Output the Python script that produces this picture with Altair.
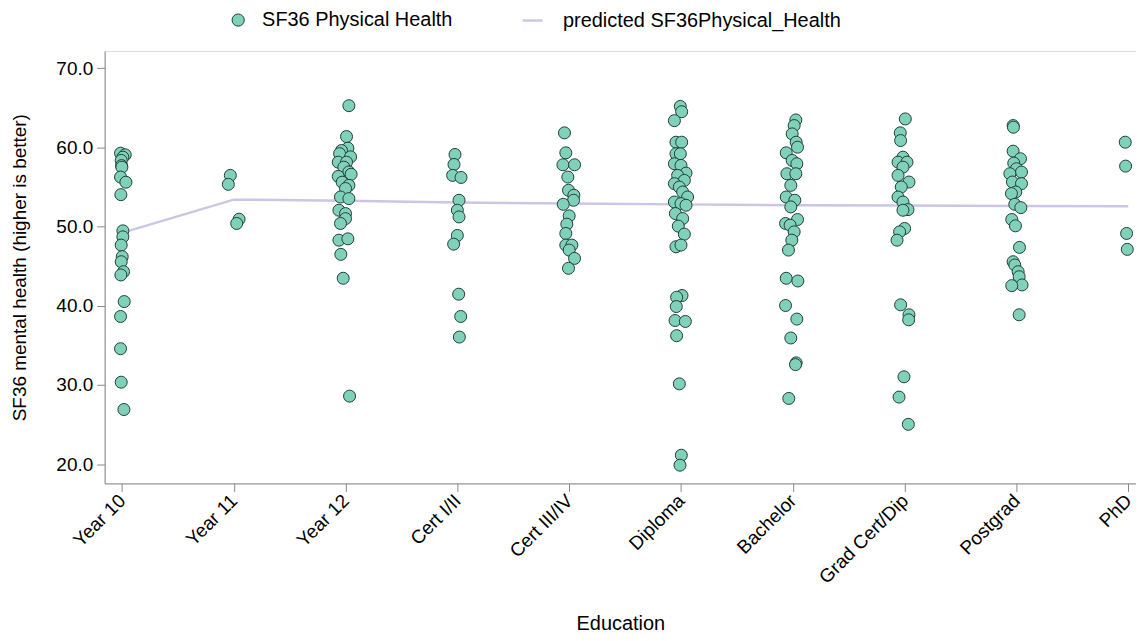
import altair as alt
import pandas as pd

categories = ["Year 10", "Year 11", "Year 12", "Cert I/II", "Cert III/IV",
              "Diploma", "Bachelor", "Grad Cert/Dip", "Postgrad", "PhD"]

# SF36 values per education level, with the horizontal jitter (category units)
y_year10 = [59.26, 59.06, 58.76, 58.35, 57.7, 57.5, 56.25, 55.6, 54.03, 49.46, 48.7,
            47.66, 46.2, 45.56, 44.3, 43.89, 40.53, 38.65, 34.58, 30.35, 26.9]
j_year10 = [-0.012, 0.030, 0.009, -0.006, -0.003, 0.0, -0.012, 0.036, -0.009, 0.009, 0.009,
            -0.006, 0.003, -0.006, 0.015, -0.009, 0.021, -0.012, -0.012, -0.006, 0.018]

y_year11 = [56.46, 55.33, 50.93, 50.39]
j_year11 = [-0.030, -0.048, 0.048, 0.027]

y_year12 = [65.26, 61.36, 59.9, 59.6, 59.2, 58.8, 58.13, 58.13, 57.5, 56.9, 56.6, 56.33,
            55.6, 55.2, 54.8, 53.73, 53.53, 52.06, 51.64, 51.0, 50.39, 48.28, 48.45,
            46.49, 43.47, 28.59]
j_year12 = [0.030, 0.009, 0.021, -0.036, -0.053, 0.045, -0.065, 0.009, -0.015, 0.030,
            0.050, -0.065, -0.030, 0.030, 0.0, -0.045, 0.030, -0.059, 0.0, 0.0, -0.045,
            -0.059, 0.021, -0.042, -0.021, 0.036]

y_cert12 = [59.1, 57.84, 56.46, 56.2, 53.32, 52.06, 51.22, 48.88, 47.78, 41.46, 38.65, 36.05]
j_cert12 = [-0.021, -0.030, -0.042, 0.033, 0.015, 0.0, 0.015, 0.0, -0.033, 0.012, 0.030, 0.018]

y_cert34 = [61.83, 59.31, 57.8, 57.8, 56.25, 54.58, 53.95, 53.32, 52.81, 51.35, 50.3,
            49.13, 47.66, 47.66, 47.03, 45.98, 44.73]
j_cert34 = [-0.042, -0.030, -0.056, 0.048, -0.012, -0.006, 0.042, 0.039, -0.053, 0.0,
            -0.021, -0.030, -0.030, 0.024, 0.0, 0.048, -0.006]

y_diploma = [65.17, 64.5, 63.37, 60.65, 60.65, 59.19, 59.19, 57.93, 57.72, 56.75, 56.46,
             55.83, 55.42, 54.99, 54.36, 53.73, 53.1, 52.9, 52.69, 51.64, 51.01, 50.05,
             49.04, 47.45, 47.66, 41.29, 41.08, 39.9, 38.14, 38.02, 36.22, 30.14, 21.13, 19.87]
j_diploma = [-0.006, 0.006, -0.059, -0.045, 0.006, -0.045, -0.006, -0.059, 0.0, 0.045,
             -0.030, 0.030, -0.059, -0.015, 0.015, 0.059, -0.059, 0.0, 0.045, -0.050,
             0.015, -0.024, 0.030, -0.045, 0.0, 0.009, -0.039, -0.042, -0.053, 0.039,
             -0.039, -0.015, 0.003, -0.009]

y_bachelor = [63.46, 62.75, 61.7, 60.65, 60.02, 59.31, 58.35, 57.93, 56.67, 56.67, 55.2,
              53.73, 53.32, 52.48, 50.89, 50.39, 50.17, 49.33, 48.28, 47.03, 43.47, 43.13,
              40.03, 38.32, 35.93, 32.79, 32.57, 28.3]
j_bachelor = [0.027, 0.012, -0.006, 0.030, 0.042, -0.059, -0.006, 0.036, -0.053, 0.027,
              -0.018, -0.059, 0.018, -0.018, 0.042, -0.065, -0.024, 0.012, -0.009, -0.039,
              -0.059, 0.045, -0.065, 0.036, -0.018, 0.030, 0.024, -0.036]

y_gradcert = [63.59, 61.83, 60.86, 58.76, 58.13, 58.13, 57.5, 56.46, 55.62, 54.99, 53.73,
              53.1, 52.14, 52.06, 49.76, 49.33, 48.28, 40.12, 38.86, 38.23, 31.03, 28.47, 25.03]
j_gradcert = [0.006, -0.039, -0.036, -0.015, -0.059, 0.021, -0.015, -0.059, 0.039, -0.030,
              -0.059, -0.015, 0.030, -0.015, 0.0, -0.045, -0.068, -0.036, 0.039, 0.036,
              -0.006, -0.050, 0.033]

y_postgrad = [62.75, 62.54, 59.52, 58.56, 58.01, 57.3, 56.88, 56.67, 55.62, 55.42, 54.36,
              54.16, 52.81, 52.39, 50.89, 50.09, 47.37, 45.56, 45.15, 44.3, 43.67, 42.63,
              42.54, 38.86]
j_postgrad = [-0.030, -0.027, -0.030, 0.036, -0.024, 0.0, 0.045, -0.059, -0.036, 0.045,
              -0.006, -0.045, -0.015, 0.039, -0.042, -0.009, 0.027, -0.030, -0.015, 0.015,
              0.024, 0.050, -0.042, 0.024]

y_phd = [60.65, 57.63, 49.13, 47.12]
j_phd = [-0.027, -0.024, -0.015, -0.009]

predicted = [49.2, 53.4, 53.25, 53.05, 52.9, 52.8, 52.7, 52.66, 52.6, 52.55]

y_lists = [y_year10, y_year11, y_year12, y_cert12, y_cert34,
           y_diploma, y_bachelor, y_gradcert, y_postgrad, y_phd]
j_lists = [j_year10, j_year11, j_year12, j_cert12, j_cert34,
           j_diploma, j_bachelor, j_gradcert, j_postgrad, j_phd]

rows = []
for i, (ys, js) in enumerate(zip(y_lists, j_lists)):
    for y, j in zip(ys, js):
        rows.append({"pos": i + j, "value": y, "series": "SF36 Physical Health"})
points_df = pd.DataFrame(rows)

line_df = pd.DataFrame({
    "pos": list(range(len(categories))),
    "value": predicted,
    "pseries": "predicted SF36Physical_Health",
})

FONT = "Liberation Sans"
label_expr = "[" + ",".join("'" + c + "'" for c in categories) + "][datum.value]"

x_scale = alt.Scale(domain=[-0.154, 9.069], nice=False, zero=False)
y_scale = alt.Scale(domain=[17.57, 72.17], nice=False, zero=False)

x_axis = alt.Axis(
    values=list(range(len(categories))), labelExpr=label_expr, labelAngle=-45,
    labelAlign="right", labelBaseline="middle", labelFontSize=19, labelPadding=6,
    title="Education", titleFontSize=20, titleFontWeight="normal",
    titleY=131, titleBaseline="top", tickSize=8, grid=False,
)
y_axis = alt.Axis(
    values=[20, 30, 40, 50, 60, 70], format=".1f", labelFontSize=19, labelPadding=4,
    title="SF36 mental health (higher is better)", titleFontSize=19,
    titleFontWeight="normal", titlePadding=26, tickSize=8, grid=False,
)

line = alt.Chart(line_df).mark_line(strokeWidth=2.5).encode(
    x=alt.X("pos:Q", scale=x_scale, axis=x_axis),
    y=alt.Y("value:Q", scale=y_scale, axis=y_axis),
    stroke=alt.Stroke(
        "pseries:N",
        scale=alt.Scale(domain=["predicted SF36Physical_Health"], range=["#c9c7e5"]),
        legend=alt.Legend(
            orient="none", legendX=418, legendY=-42, title=None, padding=0,
            symbolType="stroke", symbolSize=400, symbolStrokeWidth=2.5,
            labelFontSize=20, labelOffset=19, labelFont=FONT, labelColor="#000",
            labelLimit=0,
        ),
    ),
)

points = alt.Chart(points_df).mark_circle(
    size=145, opacity=1, stroke="#233f37", strokeWidth=1
).encode(
    x=alt.X("pos:Q", scale=x_scale, axis=x_axis),
    y=alt.Y("value:Q", scale=y_scale, axis=y_axis),
    fill=alt.Fill(
        "series:N",
        scale=alt.Scale(domain=["SF36 Physical Health"], range=["#7fd1b9"]),
        legend=alt.Legend(
            orient="none", legendX=124, legendY=-41, title=None, padding=0,
            symbolType="circle", symbolSize=150, symbolStrokeColor="#233f37",
            symbolStrokeWidth=1, symbolOpacity=1,
            labelFontSize=20, labelOffset=14, labelFont=FONT, labelColor="#000",
            labelLimit=0,
        ),
    ),
)

chart = alt.layer(line, points).properties(
    width=1035, height=434,
    autosize=alt.AutoSizeParams(type="none"),
    padding={"left": 97, "top": 42, "right": 0, "bottom": 149},
).configure_view(stroke=None).configure_axis(
    labelFont=FONT, titleFont=FONT, labelColor="#000", titleColor="#000",
    domainColor="#222", tickColor="#222", domainWidth=1.5, tickWidth=1.2,
).configure(background="white")

chart.save("out.html", embed_options={"renderer": "svg", "actions": False})
